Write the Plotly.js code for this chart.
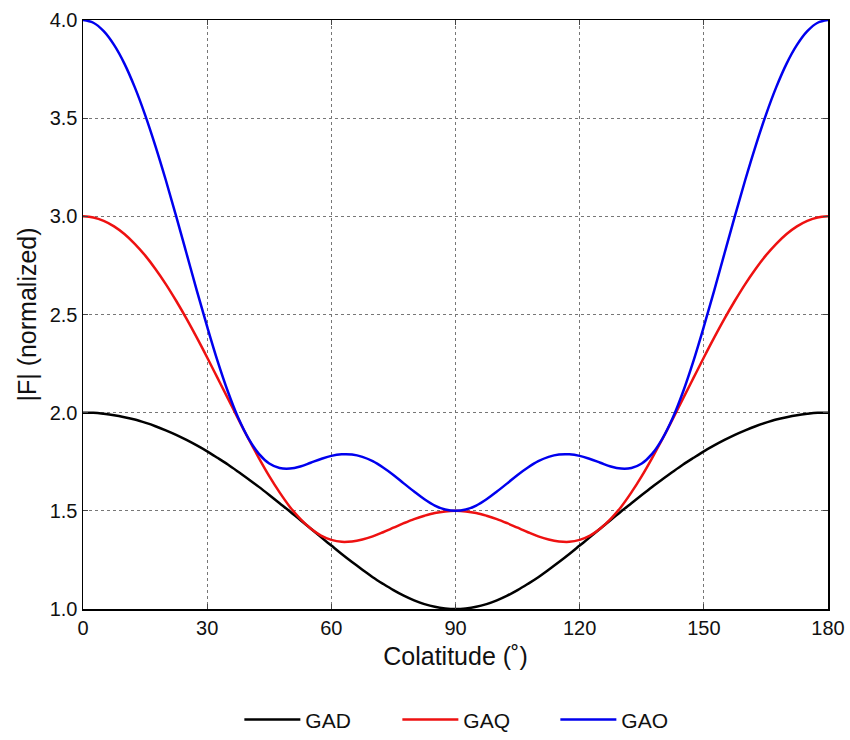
<!DOCTYPE html>
<html>
<head>
<meta charset="utf-8">
<script src="https://cdn.plot.ly/plotly-3.0.1.min.js"></script>
<style>html,body{margin:0;padding:0;background:#fff;}#chart{width:850px;height:740px;}</style>
</head>
<body>
<div id="chart"></div>
<script>
const colatitude = [0,2.5,5,7.5,10,12.5,15,17.5,20,22.5,25,27.5,30,32.5,35,37.5,40,42.5,45,47.5,50,52.5,55,57.5,60,62.5,65,67.5,70,72.5,75,77.5,80,82.5,85,87.5,90,
  92.5,95,97.5,100,102.5,105,107.5,110,112.5,115,117.5,120,122.5,125,127.5,130,132.5,135,137.5,140,142.5,145,147.5,150,152.5,155,157.5,160,162.5,165,167.5,170,172.5,175,177.5,180];
// values from 0 to 90 deg; curves are symmetric about the equator
const gadHalf = [2.000,1.999,1.994,1.987,1.977,1.965,1.949,1.931,1.910,1.887,1.861,1.833,1.803,1.770,1.736,1.699,1.661,1.622,1.581,1.539,1.497,1.453,1.410,1.366,1.323,1.280,1.239,1.200,1.162,1.128,1.096,1.068,1.044,1.025,1.011,1.003,1.000];
const gaqHalf = [3.000,2.994,2.977,2.949,2.910,2.860,2.801,2.732,2.655,2.570,2.479,2.382,2.281,2.177,2.073,1.968,1.866,1.769,1.677,1.594,1.520,1.459,1.410,1.374,1.352,1.342,1.344,1.354,1.370,1.391,1.414,1.437,1.458,1.475,1.489,1.497,1.500];
const gaoHalf = [4.000,3.986,3.943,3.873,3.778,3.658,3.517,3.358,3.185,3.001,2.812,2.622,2.438,2.264,2.108,1.974,1.868,1.790,1.741,1.718,1.715,1.726,1.745,1.764,1.780,1.788,1.787,1.775,1.753,1.721,1.683,1.640,1.598,1.559,1.527,1.507,1.500];
function mirror(h){ return h.concat(h.slice(0,-1).reverse()); }
const GAD = mirror(gadHalf);
const GAQ = mirror(gaqHalf);
const GAO = mirror(gaoHalf);
const xTicks = [0,30,60,90,120,150,180];
const yTicks = [1.0,1.5,2.0,2.5,3.0,3.5,4.0];
const yTickText = ["1.0","1.5","2.0","2.5","3.0","3.5","4.0"];

const font = "Liberation Sans, Arial, Helvetica, sans-serif";
const mk = (y,name,color)=>({x:colatitude,y:y,name:name,type:'scatter',mode:'lines',
  line:{color:color,width:2.5,shape:'spline',smoothing:1},cliponaxis:false});
const data = [mk(GAD,'GAD','#000000'), mk(GAQ,'GAQ','#ee1111'), mk(GAO,'GAO','#0000ee')];
const axisCommon = {showline:true,mirror:'ticks',linecolor:'#000',linewidth:1.5,ticks:'inside',ticklen:5,tickcolor:'#444',
  showgrid:true,gridcolor:'#777',griddash:'dot',gridwidth:1,zeroline:false,tickfont:{family:font,size:20,color:'#111'}};
const layout = {
  width:850,height:740,
  margin:{l:83,r:22,t:20,b:131,autoexpand:false},
  paper_bgcolor:'#fff',plot_bgcolor:'#fff',
  showlegend:true,
  legend:{orientation:'h',x:0.528,xanchor:'center',y:-0.188,yanchor:'middle',font:{family:font,size:21,color:'#111'},
    tracegroupgap:0,itemwidth:56,entrywidth:87},
  xaxis:Object.assign({},axisCommon,{range:[0,180],tickvals:xTicks,ticktext:xTicks.map(String),
    title:{text:'Colatitude (˚)',font:{family:font,size:25,color:'#111'},standoff:10}}),
  yaxis:Object.assign({},axisCommon,{range:[1,4],tickvals:yTicks,ticktext:yTickText,
    title:{text:'|F| (normalized)',font:{family:font,size:25,color:'#111'},standoff:6}})
};
Plotly.newPlot('chart',data,layout,{displayModeBar:false,staticPlot:true});
</script>
</body>
</html>
